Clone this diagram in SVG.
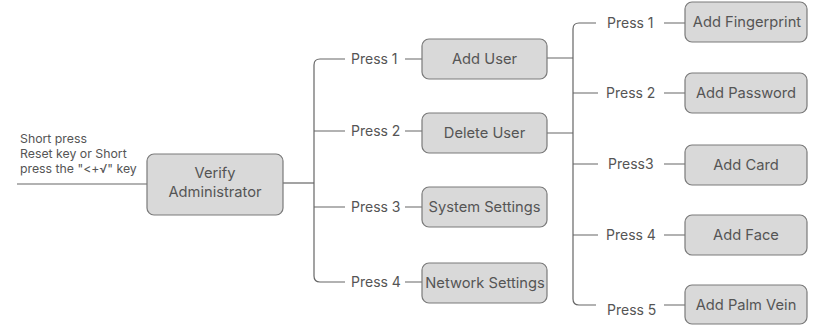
<svg xmlns="http://www.w3.org/2000/svg" width="813" height="325" viewBox="0 0 813 325">
<style>
.box{fill:#d9d9d9;stroke:#7a7a7a;stroke-width:1.2}
.t{font-family:Inter,"Noto Sans",sans-serif;font-size:14px;fill:#555}
.b{font-size:14.7px}
.s{font-family:Inter,"Noto Sans",sans-serif;font-size:12.3px;fill:#555}
.c{text-anchor:middle}
.ln{fill:none;stroke:#666;stroke-width:1.2}
</style>
<rect width="813" height="325" fill="#fff"/>
<g id="connectors">
<path class="ln" d="M17,184 H147"/>
<path class="ln" d="M283,183 H314"/>
<path class="ln" d="M345,59 H320 Q314,59 314,65 V276 Q314,282 320,282 H345"/>
<path class="ln" d="M314,131 H345 M314,207 H345"/>
<path class="ln" d="M405,59 H422 M405,131 H422 M405,207 H422 M405,282 H422"/>
<path class="ln" d="M547,58 H573 M547,133 H573"/>
<path class="ln" d="M596,23 H579 Q573,23 573,29 V299 Q573,305 579,305 H596"/>
<path class="ln" d="M573,93 H598 M573,164 H598 M573,235 H598"/>
<path class="ln" d="M664,23 H685 M664,93 H685 M664,164 H685 M664,235 H685 M664,305 H685"/>
</g>
<g id="start-label">
<text class="s" x="20" y="143">Short press</text>
<text class="s" x="20" y="158">Reset key or Short</text>
<text class="s" x="20" y="173">press the "&lt;+√" key</text>
</g>
<g id="verify"><rect class="box" x="147" y="154" width="136" height="61" rx="7"/><text class="t b c" x="215" y="178">Verify</text><text class="t b c" x="215" y="197">Administrator</text></g>
<g id="p1l"><text class="t" x="351" y="64">Press 1</text></g>
<g id="p2l"><text class="t" x="351" y="136">Press 2</text></g>
<g id="p3l"><text class="t" x="351" y="212">Press 3</text></g>
<g id="p4l"><text class="t" x="351" y="287">Press 4</text></g>
<g id="adduser"><rect class="box" x="422" y="39" width="125" height="40" rx="7"/><text class="t b c" x="484.5" y="64">Add User</text></g>
<g id="deleteuser"><rect class="box" x="422" y="113" width="125" height="40" rx="7"/><text class="t b c" x="484.5" y="138">Delete User</text></g>
<g id="system"><rect class="box" x="422" y="187" width="125" height="40" rx="7"/><text class="t b c" x="484.5" y="212">System Settings</text></g>
<g id="network"><rect class="box" x="422" y="263" width="125" height="40" rx="7"/><text class="t b c" x="485" y="288">Network Settings</text></g>
<g id="r1l"><text class="t" x="607" y="28">Press 1</text></g>
<g id="r2l"><text class="t" x="606" y="98">Press 2</text></g>
<g id="r3l"><text class="t" x="608" y="169">Press3</text></g>
<g id="r4l"><text class="t" x="606" y="240">Press 4</text></g>
<g id="r5l"><text class="t" x="607" y="315">Press 5</text></g>
<g id="fingerprint"><rect class="box" x="685" y="2" width="122" height="40" rx="7"/><text class="t b c" x="747" y="27">Add Fingerprint</text></g>
<g id="password"><rect class="box" x="685" y="73" width="122" height="40" rx="7"/><text class="t b c" x="746" y="98">Add Password</text></g>
<g id="card"><rect class="box" x="685" y="145" width="122" height="40" rx="7"/><text class="t b c" x="746" y="170">Add Card</text></g>
<g id="face"><rect class="box" x="685" y="215" width="122" height="40" rx="7"/><text class="t b c" x="746" y="240">Add Face</text></g>
<g id="palm"><rect class="box" x="685" y="285" width="122" height="39" rx="7"/><text class="t b c" x="746" y="310">Add Palm Vein</text></g>
</svg>
